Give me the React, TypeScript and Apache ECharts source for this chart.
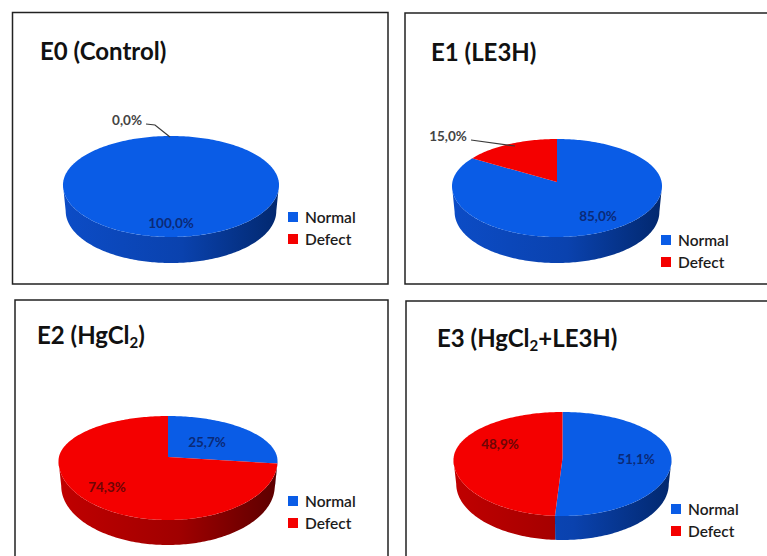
import React, { useEffect, useRef } from "react";
import * as echarts from "echarts";

// Share of embryos per treatment group, in percent
const categories = ["Normal", "Defect"];
const e0Values = [100.0, 0.0];
const e1Values = [85.0, 15.0];
const e2Values = [25.7, 74.3];
const e3Values = [51.1, 48.9];

const FONT = "Lato, 'Open Sans', sans-serif";
const TOP_COLORS = ["#0a5ce6", "#f40000"];
const RIM_STOPS = [
  ["#0c4cc6", "#0a42ae", "#02286e"],
  ["#c00000", "#a00000", "#5c0000"],
];
const LABEL_COLORS = ["#0b2a78", "#6e0505"];

type Panel = {
  title: string;
  titleX: number;
  titleY: number;
  values: number[];
  cx: number;
  rx: number;
  ey: number;
  ryTop: number;
  ryBot: number;
  apexY: number;
  depth: number;
  labels: number[][];
  legendX: number;
  legendY: number;
  leader?: number[][];
};

const panels: Panel[] = [
  {
    title: "{b|E0 (Control)}",
    titleX: 40,
    titleY: 35,
    values: e0Values,
    cx: 171,
    rx: 108,
    ey: 185,
    ryTop: 49,
    ryBot: 52,
    apexY: 185,
    depth: 26,
    labels: [
      [171, 223],
      [127, 120],
    ],
    legendX: 288,
    legendY: 209,
    leader: [
      [146, 124],
      [155, 125],
      [170, 137],
    ],
  },
  {
    title: "{b|E1 (LE3H)}",
    titleX: 431,
    titleY: 36,
    values: e1Values,
    cx: 557,
    rx: 105,
    ey: 186,
    ryTop: 47,
    ryBot: 51,
    apexY: 182,
    depth: 26,
    labels: [
      [598, 216],
      [448, 136],
    ],
    legendX: 661,
    legendY: 232,
    leader: [
      [471, 140],
      [515, 146],
    ],
  },
  {
    title: "{b|E2 (HgCl}{s|2}{b|)}",
    titleX: 37,
    titleY: 319,
    values: e2Values,
    cx: 168,
    rx: 109.5,
    ey: 461,
    ryTop: 45,
    ryBot: 59,
    apexY: 457,
    depth: 25,
    labels: [
      [207, 442],
      [107, 487],
    ],
    legendX: 288,
    legendY: 493,
  },
  {
    title: "{b|E3 (HgCl}{s|2}{b|+LE3H)}",
    titleX: 437,
    titleY: 322,
    values: e3Values,
    cx: 562.5,
    rx: 109,
    ey: 460,
    ryTop: 48,
    ryBot: 56,
    apexY: 458,
    depth: 24,
    labels: [
      [636, 459],
      [500, 444],
    ],
    legendX: 671,
    legendY: 501,
  },
];

// Panel frames; the right and lower ones run off the page edge
const frames = [
  [12.5, 12.5, 375.5, 271.5],
  [405, 13, 400, 271],
  [15, 300, 373, 300],
  [406, 301, 400, 300],
];

const formatPercent = (v: number) => v.toFixed(1).replace(".", ",") + "%";
const toRad = (pct: number) => (pct / 100) * Math.PI * 2;

// Point on the tilted disc's rim, clockwise from twelve o'clock
function rimPoint(p: Panel, a: number, drop = 0, shrink = 1): number[] {
  const c = Math.cos(a);
  const ry = c > 0 ? p.ryTop : p.ryBot;
  return [p.cx + p.rx * shrink * Math.sin(a), p.ey - ry * c + drop];
}

function arc(p: Panel, from: number, to: number, drop = 0, shrink = 1) {
  const pts: number[][] = [];
  const n = Math.max(2, Math.ceil(Math.abs(to - from) / 0.02));
  for (let i = 0; i <= n; i++) {
    pts.push(rimPoint(p, from + ((to - from) * i) / n, drop, shrink));
  }
  return pts;
}

function sliceRenderer(panel: Panel, index: number) {
  return (_params: unknown, api: any) => {
    const value = api.value(0) as number;
    const start = api.value(1) as number;
    const a0 = toRad(start);
    const a1 = toRad(start + value);
    const children: any[] = [];

    if (value > 0) {
      // Visible side wall: only the near half of the disc
      const r0 = Math.max(a0, Math.PI / 2);
      const r1 = Math.min(a1, (Math.PI * 3) / 2);
      if (r1 > r0) {
        const [c0, c1, c2] = RIM_STOPS[index];
        children.push({
          type: "polygon",
          shape: {
            points: [...arc(panel, r0, r1), ...arc(panel, r1, r0, panel.depth, 0.975)],
          },
          style: {
            fill: new echarts.graphic.LinearGradient(
              panel.cx - panel.rx,
              0,
              panel.cx + panel.rx,
              0,
              [
                { offset: 0, color: c0 },
                { offset: 0.55, color: c1 },
                { offset: 1, color: c2 },
              ],
              true
            ),
          },
        });
      }
      const face =
        value >= 100
          ? arc(panel, a0, a1)
          : [[panel.cx, panel.apexY], ...arc(panel, a0, a1)];
      children.push({
        type: "polygon",
        shape: { points: face },
        style: { fill: TOP_COLORS[index] },
      });
    }

    const [lx, ly] = panel.labels[index];
    children.push({
      type: "text",
      x: lx,
      y: ly,
      style: {
        text: formatPercent(value),
        font: `700 13.5px ${FONT}`,
        fill: panel.leader && index === 1 ? "#444444" : LABEL_COLORS[index],
        align: "center",
        verticalAlign: "middle",
      },
    });
    return { type: "group", children };
  };
}

function buildOption() {
  const series: any[] = [];
  panels.forEach((panel) => {
    let cumulative = 0;
    panel.values.forEach((value, index) => {
      series.push({
        type: "custom",
        name: categories[index],
        coordinateSystem: "none",
        silent: true,
        color: TOP_COLORS[index],
        itemStyle: { color: TOP_COLORS[index] },
        renderItem: sliceRenderer(panel, index),
        data: [[value, cumulative]],
      });
      cumulative += value;
    });
  });

  return {
    animation: false,
    backgroundColor: "#ffffff",
    title: panels.map((p) => ({
      text: p.title,
      left: p.titleX,
      top: p.titleY,
      padding: 0,
      textStyle: {
        rich: {
          b: {
            fontFamily: FONT,
            fontSize: 24,
            fontWeight: 700,
            color: "#111111",
            lineHeight: 30,
          },
          s: {
            fontFamily: FONT,
            fontSize: 15,
            fontWeight: 700,
            color: "#111111",
            lineHeight: 15,
            verticalAlign: "bottom",
          },
        },
      },
    })),
    legend: panels.map((p) => ({
      left: p.legendX,
      top: p.legendY,
      orient: "vertical",
      padding: 0,
      icon: "rect",
      itemWidth: 10,
      itemHeight: 10,
      itemGap: 6,
      selectedMode: false,
      data: categories,
      textStyle: {
        fontFamily: FONT,
        fontSize: 15.5,
        fontWeight: 600,
        color: "#1c1c1c",
        padding: [0, 0, 0, 2],
      },
    })),
    graphic: [
      ...frames.map(([x, y, width, height]) => ({
        type: "rect",
        shape: { x, y, width, height },
        style: { fill: "transparent", stroke: "#222222", lineWidth: 1.5 },
        silent: true,
      })),
      ...panels
        .filter((p) => p.leader)
        .map((p) => ({
          type: "polyline",
          shape: { points: p.leader },
          style: { fill: "none", stroke: "#3a3a3a", lineWidth: 1.2 },
          silent: true,
          z: 10,
        })),
    ],
    series,
  };
}

export default function App() {
  const ref = useRef<HTMLDivElement>(null);
  useEffect(() => {
    const chart = echarts.init(ref.current!, undefined, { renderer: "svg" });
    chart.setOption(buildOption() as any);
    return () => chart.dispose();
  }, []);
  return (
    <div
      ref={ref}
      style={{ position: "fixed", left: 0, top: 0, width: 767, height: 556, overflow: "hidden" }}
    />
  );
}
